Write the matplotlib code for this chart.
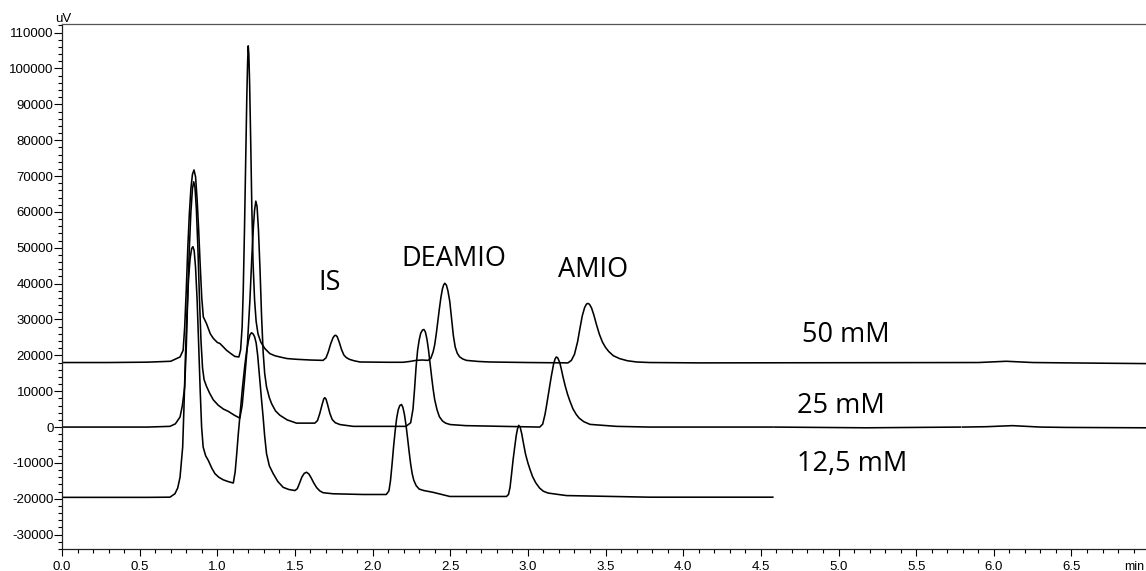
import numpy as np
import matplotlib.pyplot as plt
from matplotlib.ticker import MultipleLocator, FormatStrFormatter

# --- HPLC chromatograms of amiodarone / desethylamiodarone at three buffer strengths ---

# 50 mM trace (time in min, signal in uV)
t_50 = [0.0, 0.3, 0.55, 0.70, 0.76, 0.78, 0.79, 0.80, 0.81, 0.82, 0.83, 0.84, 0.85,
        0.86, 0.87, 0.88, 0.89, 0.90, 0.91, 0.93, 0.955, 0.975, 1.0, 1.017, 1.04, 1.06,
        1.09, 1.113, 1.139, 1.15, 1.16, 1.167, 1.175, 1.183, 1.19, 1.195, 1.199, 1.203,
        1.208, 1.215, 1.222, 1.23, 1.24, 1.25, 1.262, 1.28, 1.306, 1.338, 1.37, 1.403,
        1.45, 1.51, 1.60, 1.681, 1.70, 1.715, 1.73, 1.745, 1.755, 1.763, 1.772, 1.785,
        1.80, 1.815, 1.83, 1.85, 1.88, 1.918, 2.0, 2.1, 2.196, 2.24, 2.28, 2.32, 2.357,
        2.375, 2.39, 2.40, 2.41, 2.42, 2.43, 2.44, 2.45, 2.458, 2.465, 2.475, 2.485,
        2.497, 2.508, 2.52, 2.532, 2.545, 2.56, 2.58, 2.604, 2.68, 2.754, 3.0, 3.258,
        3.28, 3.30, 3.32, 3.335, 3.35, 3.365, 3.377, 3.387, 3.397, 3.41, 3.425, 3.44,
        3.46, 3.48, 3.50, 3.52, 3.55, 3.59, 3.64, 3.70, 3.784, 4.1, 4.8, 5.39, 5.9,
        6.08, 6.25, 6.47, 6.98]
y_50 = [18000, 18000, 18100, 18350, 19550, 21400, 27900, 38000, 50000, 59500, 66500,
        70500, 71700, 69800, 63500, 55000, 45000, 36000, 30700, 28900, 26000, 24700,
        23600, 23300, 22300, 21400, 20400, 19700, 19550, 21500, 28000, 38000, 55000,
        75000, 92000, 101500, 106300, 104000, 96000, 80000, 62000, 46000, 35500, 29500,
        26000, 23700, 21900, 20500, 19900, 19550, 19100, 18900, 18700, 18600, 19300,
        21000, 23200, 24900, 25500, 25600, 25200, 23700, 21600, 20100, 19400, 18900,
        18500, 18150, 18100, 18070, 18070, 18300, 18600, 18700, 18600, 19200, 21000,
        23000, 26000, 29500, 33000, 36200, 38600, 39700, 40100, 39600, 38000, 35000,
        30500, 25500, 22300, 20600, 19600, 19000, 18600, 18300, 18150, 18000, 17900,
        18600, 20300, 23800, 27500, 31000, 33300, 34300, 34500, 34200, 33200, 31200,
        28800, 25900, 23700, 22200, 21100, 19900, 19100, 18500, 18150, 18000, 17900,
        17950, 18000, 18000, 18350, 18000, 17900, 17700]

# 25 mM trace, nan marks the two short dropouts in the record
t_25 = [0.0, 0.55, 0.695, 0.73, 0.76, 0.775, 0.79, 0.80, 0.81, 0.82, 0.83, 0.84, 0.848,
        0.856, 0.865, 0.875, 0.885, 0.895, 0.905, 0.915, 0.93, 0.95, 0.974, 1.006, 1.04,
        1.07, 1.11, 1.145, 1.16, 1.175, 1.193, 1.21, 1.222, 1.232, 1.24, 1.248, 1.256,
        1.265, 1.275, 1.285, 1.295, 1.305, 1.317, 1.335, 1.35, 1.375, 1.403, 1.45, 1.51,
        1.628, 1.645, 1.66, 1.675, 1.685, 1.692, 1.70, 1.71, 1.725, 1.74, 1.76, 1.79,
        1.875, 2.215, 2.245, 2.26, 2.27, 2.28, 2.29, 2.30, 2.31, 2.322, 2.331, 2.34,
        2.35, 2.36, 2.37, 2.38, 2.39, 2.40, 2.415, 2.43, 2.45, 2.47, 2.50, 2.6, 3.076,
        3.095, 3.11, 3.12, 3.135, 3.15, 3.165, 3.175, 3.183, 3.192, 3.205, 3.215, 3.226,
        3.24, 3.255, 3.27, 3.29, 3.31, 3.33, 3.36, 3.40, 3.57, 3.784, 4.577, 4.58,
        4.588, 5.18, 5.785, 5.79, 5.798, 5.95, 6.12, 6.3, 6.47, 6.98]
y_25 = [0, 0, 200, 900, 2800, 6000, 11200, 22000, 37000, 50000, 60000, 66500, 68400,
        67000, 61000, 50000, 36000, 24000, 16500, 13200, 11400, 9500, 7600, 6100, 5000,
        4400, 3300, 2500, 6000, 13000, 22300, 35400, 47000, 55500, 60500, 63000, 61500,
        55000, 44000, 31000, 21000, 15000, 11200, 8200, 6500, 4500, 3300, 2000, 1100,
        1100, 1800, 3800, 6300, 7800, 8200, 7800, 6300, 3800, 2100, 1200, 700, 200,
        200, 1200, 5000, 10500, 16800, 21500, 24300, 26200, 27100, 27200, 26500, 24500,
        21500, 17800, 14000, 10500, 7600, 4800, 2900, 1700, 1100, 700, 400, 0, 800,
        3500, 6000, 10000, 14000, 17500, 19000, 19550, 19300, 18000, 16200, 14000,
        11500, 9200, 7300, 5100, 3600, 2500, 1500, 750, 200, 0, 0, np.nan, 0, -200, 0,
        np.nan, 0, 100, 400, 0, -100, -200]

# 12,5 mM trace
t_12 = [0.0, 0.3, 0.55, 0.695, 0.727, 0.745, 0.76, 0.777, 0.785, 0.795, 0.805, 0.815,
        0.825, 0.835, 0.843, 0.851, 0.86, 0.87, 0.88, 0.89, 0.899, 0.909, 0.925, 0.942,
        0.965, 0.985, 1.01, 1.038, 1.07, 1.103, 1.115, 1.125, 1.135, 1.145, 1.162,
        1.178, 1.19, 1.20, 1.21, 1.22, 1.23, 1.24, 1.25, 1.26, 1.27, 1.283, 1.295,
        1.305, 1.317, 1.335, 1.36, 1.39, 1.424, 1.46, 1.50, 1.515, 1.53, 1.545, 1.56,
        1.575, 1.59, 1.605, 1.62, 1.64, 1.66, 1.681, 1.745, 1.94, 2.088, 2.105, 2.115,
        2.125, 2.135, 2.145, 2.155, 2.165, 2.175, 2.186, 2.195, 2.205, 2.215, 2.225,
        2.235, 2.245, 2.255, 2.265, 2.28, 2.30, 2.33, 2.39, 2.497, 2.862, 2.875, 2.885,
        2.895, 2.905, 2.915, 2.925, 2.933, 2.941, 2.95, 2.96, 2.97, 2.985, 3.0, 3.015,
        3.03, 3.05, 3.075, 3.10, 3.13, 3.18, 3.248, 3.784, 4.577]
y_12 = [-19600, -19600, -19600, -19550, -18600, -17000, -14000, -5600, 5000, 20000,
        32000, 41500, 47000, 49800, 50300, 49200, 44500, 35500, 23000, 10000, 0, -5600,
        -8000, -9300, -11500, -13000, -14000, -14700, -15200, -15600, -12500, -7500,
        -2000, 2800, 11000, 17500, 21500, 24000, 25700, 26300, 26000, 25200, 23500,
        20000, 15000, 8500, 2800, -2500, -7400, -10800, -13000, -15200, -16800, -17400,
        -17700, -17200, -15600, -13900, -12900, -12600, -13100, -14200, -15500, -16900,
        -17800, -18300, -18600, -18800, -18800, -17800, -15000, -10500, -5500, -1200,
        2500, 4800, 6000, 6300, 5500, 3500, 600, -3000, -6800, -10300, -13000, -14800,
        -16300, -17300, -17700, -18200, -19350, -19350, -18800, -16800, -13000, -9000,
        -5600, -2300, -500, 470, 0, -1800, -4200, -7600, -10000, -12000, -13800,
        -15500, -17000, -17900, -18400, -18700, -19100, -19550, -19550]

# peak names and trace labels
peak_names = ["IS", "DEAMIO", "AMIO"]
peak_pos = [(1.726, 38200), (2.524, 44900), (3.421, 41900)]
trace_names = ["50 mM", "25 mM", "12,5 mM"]
trace_pos = [(4.765, 23800), (4.733, 3800), (4.733, -12200)]

plt.rcParams['axes.unicode_minus'] = False
plt.rcParams['font.family'] = ['Liberation Sans', 'DejaVu Sans']

fig = plt.figure(figsize=(11.46, 5.71), dpi=100)
ax = fig.add_axes([62 / 1146, 22 / 571, 1 - 62 / 1146, 525 / 571])

for t, y in [(t_50, y_50), (t_25, y_25), (t_12, y_12)]:
    ax.plot(t, y, color='black', lw=1.15, solid_joinstyle='round')

for name, (x, y) in zip(peak_names, peak_pos):
    ax.text(x, y, name, ha='center', va='baseline', fontsize=19.5, family='Open Sans')
for name, (x, y) in zip(trace_names, trace_pos):
    ax.text(x, y, name, ha='left', va='baseline', fontsize=19.5, family='Open Sans')

ax.set_xlim(0, 6.98)
ax.set_ylim(-34000, 112400)

ax.xaxis.set_major_locator(MultipleLocator(0.5))
ax.xaxis.set_minor_locator(MultipleLocator(0.1))
ax.xaxis.set_major_formatter(FormatStrFormatter('%.1f'))
ax.yaxis.set_major_locator(MultipleLocator(10000))
ax.yaxis.set_minor_locator(MultipleLocator(2000))

ax.tick_params(axis='x', which='major', length=4.8, width=0.8, pad=3.5, labelsize=9.5)
ax.tick_params(axis='x', which='minor', length=2.8, width=0.8)
ax.tick_params(axis='y', which='major', length=5.5, width=0.8, pad=0.5, labelsize=9.5)
ax.tick_params(axis='y', which='minor', length=2.8, width=0.8)

ax.spines['right'].set_visible(False)
for side in ['left', 'bottom', 'top']:
    ax.spines[side].set_linewidth(0.9)
    ax.spines[side].set_color('#222222')
ax.spines['top'].set_color('#555555')

# axis units sit at the ends of the axes
fig.text(55 / 1146, 1 - 22.5 / 571, "uV", fontsize=9.5, ha='left', va='baseline')
fig.text(1124 / 1146, 1 - 569.5 / 571, "min", fontsize=9, ha='left', va='baseline')

fig.savefig("out.png", dpi=100)
